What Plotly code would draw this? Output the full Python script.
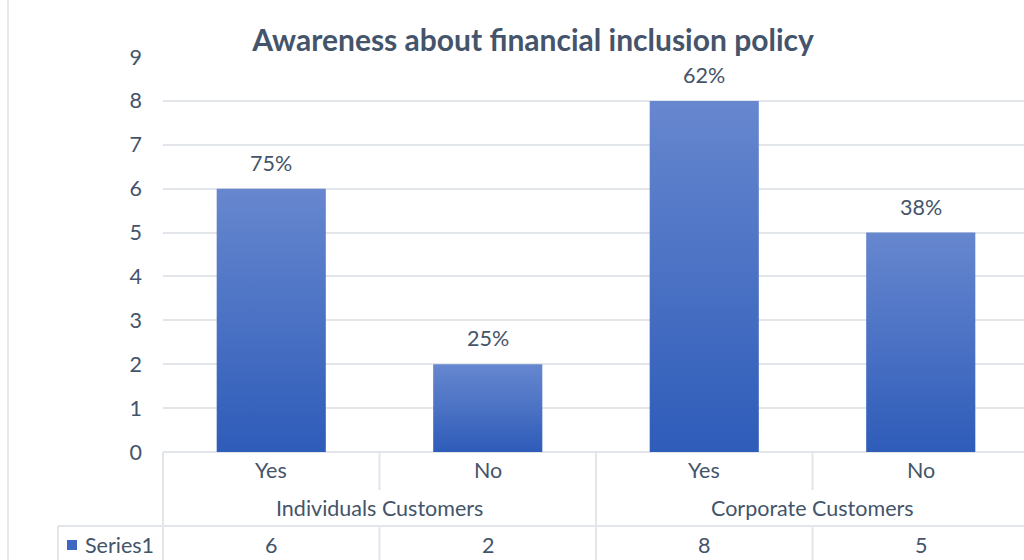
import plotly.graph_objects as go

# ---- data ----
answers = ["Yes", "No", "Yes", "No"]
groups = ["Individuals Customers", "Corporate Customers"]
series_name = "Series1"
counts = [6, 2, 8, 5]
pct_labels = ["75%", "25%", "62%", "38%"]
y_ticks = [0, 1, 2, 3, 4, 5, 6, 7, 8, 9]

# ---- styling ----
FONT = "Lato"
FS = 21.5
TEXT = "#44546A"
GRID = "#E2E5EA"
BAR_TOP = "#6787CF"
BAR_BOTTOM = "#2E5CB9"
W, H = 1024, 560
PLOT_L, PLOT_R, PLOT_T, PLOT_B = 163, 1024, 57, 452
CAT_W = 216.5  # pixel width of one category slot
BAR_HALF = 0.252

def py2paper(py):
    return (PLOT_B - py) / (PLOT_B - PLOT_T)

def px2paper(px):
    return (px - PLOT_L) / (PLOT_R - PLOT_L)

fig = go.Figure()

# bars: each one a filled rectangle with its own bottom-to-top gradient
for i, v in enumerate(counts):
    fig.add_trace(go.Scatter(
        x=[i - BAR_HALF, i + BAR_HALF, i + BAR_HALF, i - BAR_HALF, i - BAR_HALF],
        y=[0, 0, v, v, 0],
        mode="none",
        fill="toself",
        fillgradient=dict(type="vertical", start=0, stop=v,
                          colorscale=[[0, BAR_BOTTOM], [1, BAR_TOP]]),
        hoverinfo="skip",
        showlegend=False,
    ))

annotations = []
# value labels above bars
for i, (v, lab) in enumerate(zip(counts, pct_labels)):
    annotations.append(dict(x=i, y=v, xref="x", yref="y", text=lab, showarrow=False,
                            yanchor="middle", yshift=26,
                            font=dict(family=FONT, size=FS, color=TEXT)))

# category row
for i, a in enumerate(answers):
    annotations.append(dict(x=i, y=py2paper(470), xref="x", yref="paper", text=a,
                            showarrow=False, yanchor="middle",
                            font=dict(family=FONT, size=FS, color=TEXT)))
# group row
for g, name in enumerate(groups):
    annotations.append(dict(x=2 * g + 0.5, y=py2paper(508), xref="x", yref="paper",
                            text=name, showarrow=False, yanchor="middle",
                            font=dict(family=FONT, size=FS, color=TEXT)))
# data table row
for i, v in enumerate(counts):
    annotations.append(dict(x=i, y=py2paper(545), xref="x", yref="paper", text=str(v),
                            showarrow=False, yanchor="middle",
                            font=dict(family=FONT, size=FS, color=TEXT)))
annotations.append(dict(x=px2paper(83), y=py2paper(545), xref="paper", yref="paper",
                        text=series_name, showarrow=False, xanchor="left",
                        yanchor="middle", font=dict(family=FONT, size=FS, color=TEXT)))

line = dict(color=GRID, width=2)
shapes = []
# outer chart border on the left
shapes.append(dict(type="line", xref="paper", yref="paper",
                   x0=px2paper(8), x1=px2paper(8), y0=py2paper(0), y1=py2paper(H),
                   line=dict(color="#E6E8EC", width=2)))
# table: left edge of category area
shapes.append(dict(type="line", xref="paper", yref="paper",
                   x0=0, x1=0, y0=0, y1=py2paper(H), line=line))
# separators inside groups (category row and data row)
for xb in (0.5, 2.5):
    shapes.append(dict(type="line", xref="x", yref="paper", x0=xb, x1=xb,
                       y0=0, y1=py2paper(490), line=line))
    shapes.append(dict(type="line", xref="x", yref="paper", x0=xb, x1=xb,
                       y0=py2paper(526), y1=py2paper(H), line=line))
# separator between groups
shapes.append(dict(type="line", xref="x", yref="paper", x0=1.5, x1=1.5,
                   y0=0, y1=py2paper(H), line=line))
# horizontal line above data row
shapes.append(dict(type="line", xref="paper", yref="paper",
                   x0=px2paper(58), x1=1, y0=py2paper(526), y1=py2paper(526), line=line))
# left edge of the series label cell
shapes.append(dict(type="line", xref="paper", yref="paper",
                   x0=px2paper(58), x1=px2paper(58), y0=py2paper(526), y1=py2paper(H),
                   line=line))
# legend key
shapes.append(dict(type="rect", xref="paper", yref="paper",
                   x0=px2paper(67), x1=px2paper(77), y0=py2paper(540), y1=py2paper(550),
                   fillcolor="#3F68C4", line=dict(width=0)))

fig.update_layout(
    width=W, height=H,
    margin=dict(l=PLOT_L, r=W - PLOT_R, t=PLOT_T, b=H - PLOT_B, pad=0),
    paper_bgcolor="white", plot_bgcolor="white",
    title=dict(text="<b>Awareness about financial inclusion policy</b>",
               x=533 / W, xanchor="center", y=1 - 40 / H, yanchor="middle",
               font=dict(family=FONT, size=30, color=TEXT)),
    xaxis=dict(range=[-0.5, -0.5 + (PLOT_R - PLOT_L) / CAT_W], showticklabels=False,
               showgrid=False, zeroline=False, showline=False, fixedrange=True),
    yaxis=dict(range=[0, 9], tickvals=y_ticks, showgrid=True, gridcolor=GRID, gridwidth=2,
               zeroline=True, zerolinecolor=GRID, zerolinewidth=2, showline=False,
               ticklabelstandoff=20,
               tickfont=dict(family=FONT, size=FS, color=TEXT)),
    annotations=annotations,
    shapes=shapes,
    showlegend=False,
)

fig.write_html("out.html")
